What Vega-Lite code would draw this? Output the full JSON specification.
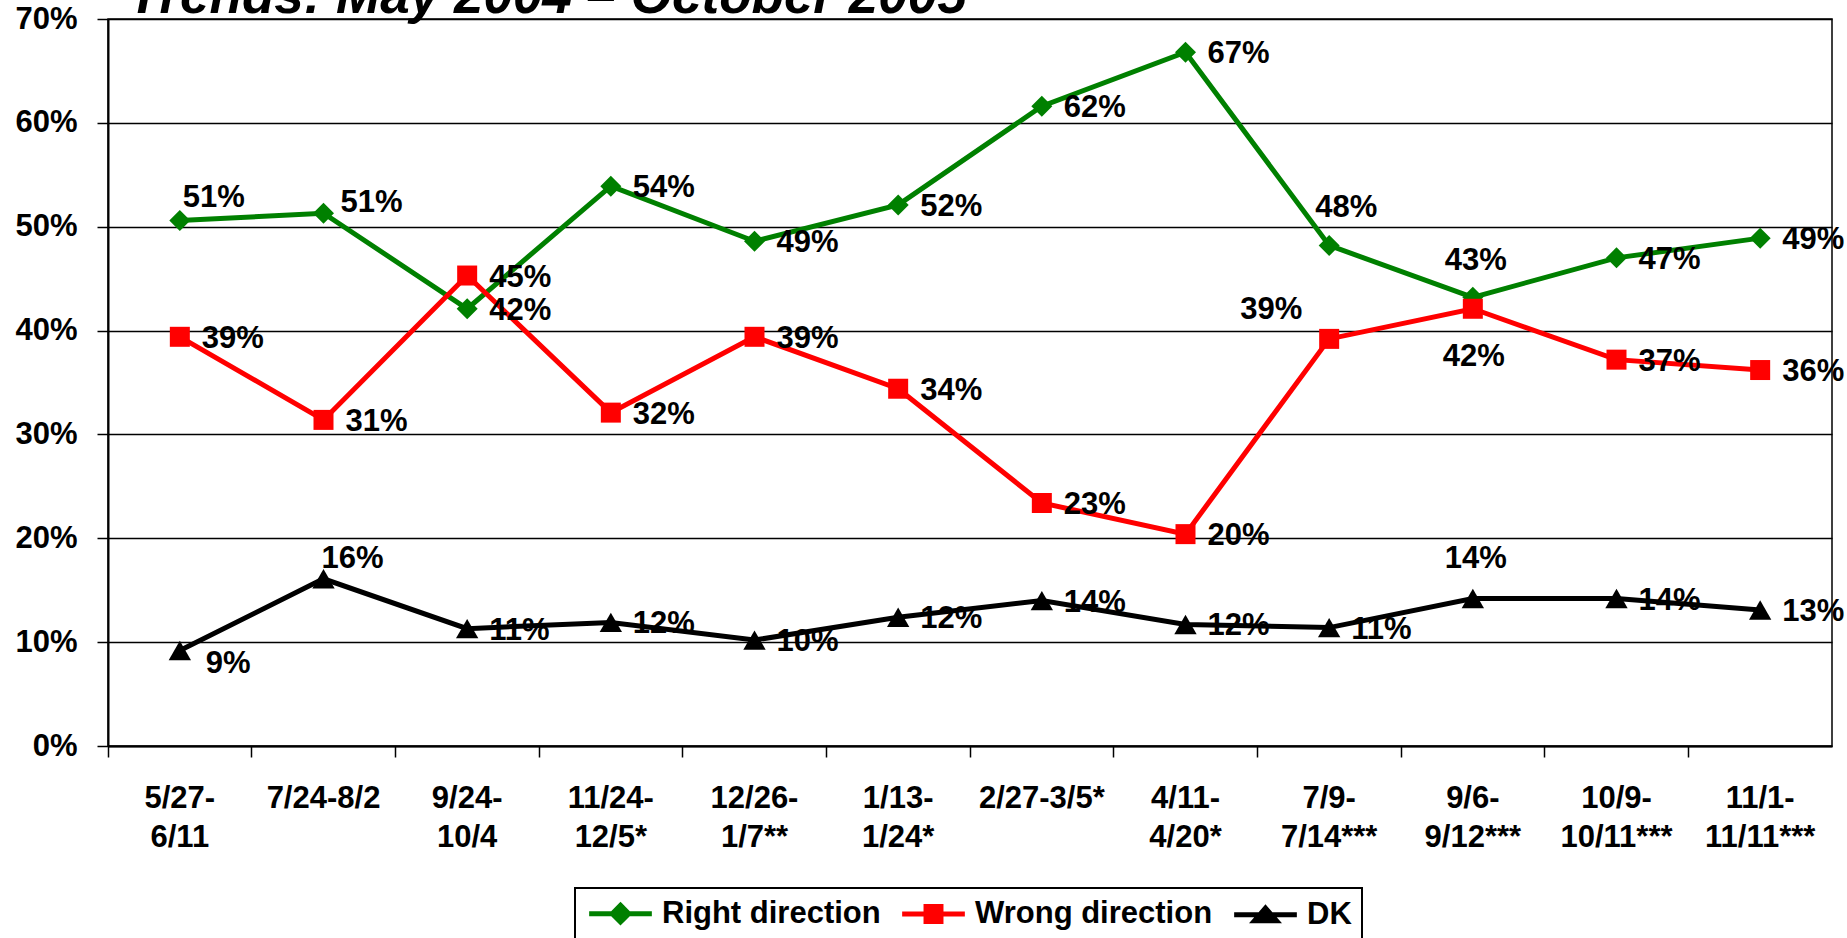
{
  "$schema": "https://vega.github.io/schema/vega-lite/v6.json",
  "width": 1724,
  "height": 727,
  "autosize": {"type": "none"},
  "padding": {"left": 108, "top": 19, "right": 15, "bottom": 192},
  "background": "white",
  "view": {"stroke": "black", "strokeWidth": 1.5},
  "config": {
    "font": "Liberation Sans",
    "text": {"font": "Liberation Sans", "fontSize": 31, "fontWeight": "bold", "color": "black"}
  },
  "title": {
    "text": "Trends: May 2004 – October 2005",
    "anchor": "start",
    "frame": "group",
    "orient": "top",
    "baseline": "alphabetic",
    "offset": -63,
    "dx": 20,
    "font": "Liberation Sans",
    "fontSize": 53,
    "fontStyle": "italic",
    "fontWeight": "bold",
    "color": "black"
  },
  "data": {
    "values": [
      {"period": "5/27-6/11", "series": "Right direction", "value": 0.506},
      {"period": "7/24-8/2", "series": "Right direction", "value": 0.513},
      {"period": "9/24-10/4", "series": "Right direction", "value": 0.421},
      {"period": "11/24-12/5*", "series": "Right direction", "value": 0.539},
      {"period": "12/26-1/7**", "series": "Right direction", "value": 0.486},
      {"period": "1/13-1/24*", "series": "Right direction", "value": 0.521},
      {"period": "2/27-3/5*", "series": "Right direction", "value": 0.616},
      {"period": "4/11-4/20*", "series": "Right direction", "value": 0.668},
      {"period": "7/9-7/14***", "series": "Right direction", "value": 0.482},
      {"period": "9/6-9/12***", "series": "Right direction", "value": 0.432},
      {"period": "10/9-10/11***", "series": "Right direction", "value": 0.470},
      {"period": "11/1-11/11***", "series": "Right direction", "value": 0.489},
      {"period": "5/27-6/11", "series": "Wrong direction", "value": 0.394},
      {"period": "7/24-8/2", "series": "Wrong direction", "value": 0.314},
      {"period": "9/24-10/4", "series": "Wrong direction", "value": 0.453},
      {"period": "11/24-12/5*", "series": "Wrong direction", "value": 0.321},
      {"period": "12/26-1/7**", "series": "Wrong direction", "value": 0.394},
      {"period": "1/13-1/24*", "series": "Wrong direction", "value": 0.344},
      {"period": "2/27-3/5*", "series": "Wrong direction", "value": 0.234},
      {"period": "4/11-4/20*", "series": "Wrong direction", "value": 0.204},
      {"period": "7/9-7/14***", "series": "Wrong direction", "value": 0.392},
      {"period": "9/6-9/12***", "series": "Wrong direction", "value": 0.421},
      {"period": "10/9-10/11***", "series": "Wrong direction", "value": 0.372},
      {"period": "11/1-11/11***", "series": "Wrong direction", "value": 0.362},
      {"period": "5/27-6/11", "series": "DK", "value": 0.092},
      {"period": "7/24-8/2", "series": "DK", "value": 0.161},
      {"period": "9/24-10/4", "series": "DK", "value": 0.113},
      {"period": "11/24-12/5*", "series": "DK", "value": 0.119},
      {"period": "12/26-1/7**", "series": "DK", "value": 0.102},
      {"period": "1/13-1/24*", "series": "DK", "value": 0.124},
      {"period": "2/27-3/5*", "series": "DK", "value": 0.140},
      {"period": "4/11-4/20*", "series": "DK", "value": 0.117},
      {"period": "7/9-7/14***", "series": "DK", "value": 0.114},
      {"period": "9/6-9/12***", "series": "DK", "value": 0.142},
      {"period": "10/9-10/11***", "series": "DK", "value": 0.142},
      {"period": "11/1-11/11***", "series": "DK", "value": 0.131}
    ]
  },
  "encoding": {
    "x": {
      "field": "period",
      "type": "ordinal",
      "sort": ["5/27-6/11", "7/24-8/2", "9/24-10/4", "11/24-12/5*", "12/26-1/7**", "1/13-1/24*", "2/27-3/5*", "4/11-4/20*", "7/9-7/14***", "9/6-9/12***", "10/9-10/11***", "11/1-11/11***"],
      "scale": {"type": "band", "paddingInner": 0, "paddingOuter": 0},
      "axis": {
        "title": null,
        "bandPosition": 0,
        "labelAngle": 0,
        "labelAlign": "center",
        "labelBaseline": "top",
        "labelFont": "Liberation Sans",
        "labelFontSize": 31,
        "labelFontWeight": "bold",
        "labelColor": "black",
        "labelLineHeight": 39,
        "labelPadding": 26,
        "labelOverlap": false,
        "labelBound": false,
        "labelLimit": 0,
        "labelExpr": "(datum.value == '7/24-8/2' || datum.value == '2/27-3/5*') ? datum.value : split(replace(datum.value, '-', '-|'), '|')",
        "domainColor": "black",
        "domainWidth": 2,
        "tickColor": "black",
        "tickWidth": 1.5,
        "tickSize": 11,
        "grid": false
      }
    },
    "y": {
      "field": "value",
      "type": "quantitative",
      "scale": {"domain": [0, 0.7], "nice": false},
      "axis": {
        "title": null,
        "values": [0, 0.1, 0.2, 0.3, 0.4, 0.5, 0.6, 0.7],
        "format": ".0%",
        "labelFont": "Liberation Sans",
        "labelFontSize": 31,
        "labelFontWeight": "bold",
        "labelColor": "black",
        "labelPadding": 20,
        "domainColor": "black",
        "domainWidth": 2,
        "tickColor": "black",
        "tickWidth": 1.5,
        "tickSize": 11,
        "grid": true,
        "gridColor": "black",
        "gridWidth": 1.5
      }
    }
  },
  "layer": [
    {
      "mark": {"type": "line", "strokeWidth": 5},
      "encoding": {
        "color": {
          "field": "series",
          "type": "nominal",
          "scale": {"domain": ["Right direction", "Wrong direction", "DK"], "range": ["#008000", "#ff0000", "#000000"]},
          "legend": {
            "orient": "none",
            "legendX": 467,
            "legendY": 869,
            "direction": "horizontal",
            "title": null,
            "labelFont": "Liberation Sans",
            "labelFontSize": 31,
            "labelFontWeight": "bold",
            "labelColor": "black",
            "labelLimit": 0,
            "labelOffset": 26,
            "symbolOffset": 20,
            "symbolSize": 484,
            "symbolStrokeWidth": 5,
            "columnPadding": 11,
            "padding": 10,
            "strokeColor": "black",
            "encode": {
              "legend": {"update": {"strokeWidth": {"value": 2}}},
              "symbols": {
                "update": {
                  "shape": {"signal": "datum.value === 'Right direction' ? 'M-2.85,0L2.85,0M0,-0.75L0.75,0L0,0.75L-0.75,0Z' : (datum.value === 'Wrong direction' ? 'M-2.85,0L2.85,0M-0.68,-0.68L0.68,-0.68L0.68,0.68L-0.68,0.68Z' : 'M-2.85,0L2.85,0M0,-0.6L1,0.55L-1,0.55Z')"},
                  "fill": {"scale": "color", "field": "value"},
                  "stroke": {"scale": "color", "field": "value"},
                  "strokeWidth": {"value": 5},
                  "opacity": {"value": 1}
                }
              }
            }
          }
        }
      }
    },
    {
      "transform": [{"filter": "datum.series == 'Right direction'"}],
      "mark": {"type": "point", "shape": "diamond", "filled": true, "fill": "#008000", "opacity": 1, "strokeWidth": 0, "size": 441}
    },
    {
      "transform": [{"filter": "datum.series == 'Wrong direction'"}],
      "mark": {"type": "point", "shape": "square", "filled": true, "fill": "#ff0000", "opacity": 1, "strokeWidth": 0, "size": 400}
    },
    {
      "transform": [{"filter": "datum.series == 'DK'"}],
      "mark": {"type": "point", "shape": "triangle-up", "filled": true, "fill": "#000000", "opacity": 1, "strokeWidth": 0, "size": 500}
    },
    {
      "transform": [{"filter": "!((datum.series == 'Right direction' && indexof(['5/27-6/11','7/24-8/2','7/9-7/14***','9/6-9/12***'], datum.period) >= 0) || (datum.series == 'Wrong direction' && indexof(['7/9-7/14***','9/6-9/12***'], datum.period) >= 0) || (datum.series == 'DK' && indexof(['5/27-6/11','7/24-8/2','9/6-9/12***'], datum.period) >= 0))"}],
      "mark": {"type": "text", "align": "left", "baseline": "middle", "dx": 22, "dy": 2},
      "encoding": {"text": {"field": "value", "type": "quantitative", "format": ".0%"}}
    },
    {
      "transform": [{"filter": "datum.series == 'Right direction' && datum.period == '5/27-6/11'"}],
      "mark": {"type": "text", "align": "left", "baseline": "middle", "dx": 3, "dy": -22},
      "encoding": {"text": {"field": "value", "type": "quantitative", "format": ".0%"}}
    },
    {
      "transform": [{"filter": "datum.series == 'Right direction' && datum.period == '7/24-8/2'"}],
      "mark": {"type": "text", "align": "left", "baseline": "middle", "dx": 17, "dy": -10},
      "encoding": {"text": {"field": "value", "type": "quantitative", "format": ".0%"}}
    },
    {
      "transform": [{"filter": "datum.series == 'Right direction' && datum.period == '7/9-7/14***'"}],
      "mark": {"type": "text", "align": "center", "baseline": "middle", "dx": 17, "dy": -37},
      "encoding": {"text": {"field": "value", "type": "quantitative", "format": ".0%"}}
    },
    {
      "transform": [{"filter": "datum.series == 'Right direction' && datum.period == '9/6-9/12***'"}],
      "mark": {"type": "text", "align": "center", "baseline": "middle", "dx": 3, "dy": -36},
      "encoding": {"text": {"field": "value", "type": "quantitative", "format": ".0%"}}
    },
    {
      "transform": [{"filter": "datum.series == 'Wrong direction' && datum.period == '7/9-7/14***'"}],
      "mark": {"type": "text", "align": "center", "baseline": "middle", "dx": -58, "dy": -29},
      "encoding": {"text": {"field": "value", "type": "quantitative", "format": ".0%"}}
    },
    {
      "transform": [{"filter": "datum.series == 'Wrong direction' && datum.period == '9/6-9/12***'"}],
      "mark": {"type": "text", "align": "center", "baseline": "middle", "dx": 1, "dy": 48},
      "encoding": {"text": {"field": "value", "type": "quantitative", "format": ".0%"}}
    },
    {
      "transform": [{"filter": "datum.series == 'DK' && datum.period == '5/27-6/11'"}],
      "mark": {"type": "text", "align": "left", "baseline": "middle", "dx": 26, "dy": 14},
      "encoding": {"text": {"field": "value", "type": "quantitative", "format": ".0%"}}
    },
    {
      "transform": [{"filter": "datum.series == 'DK' && datum.period == '7/24-8/2'"}],
      "mark": {"type": "text", "align": "center", "baseline": "middle", "dx": 29, "dy": -20},
      "encoding": {"text": {"field": "value", "type": "quantitative", "format": ".0%"}}
    },
    {
      "transform": [{"filter": "datum.series == 'DK' && datum.period == '9/6-9/12***'"}],
      "mark": {"type": "text", "align": "center", "baseline": "middle", "dx": 3, "dy": -40},
      "encoding": {"text": {"field": "value", "type": "quantitative", "format": ".0%"}}
    }
  ]
}
